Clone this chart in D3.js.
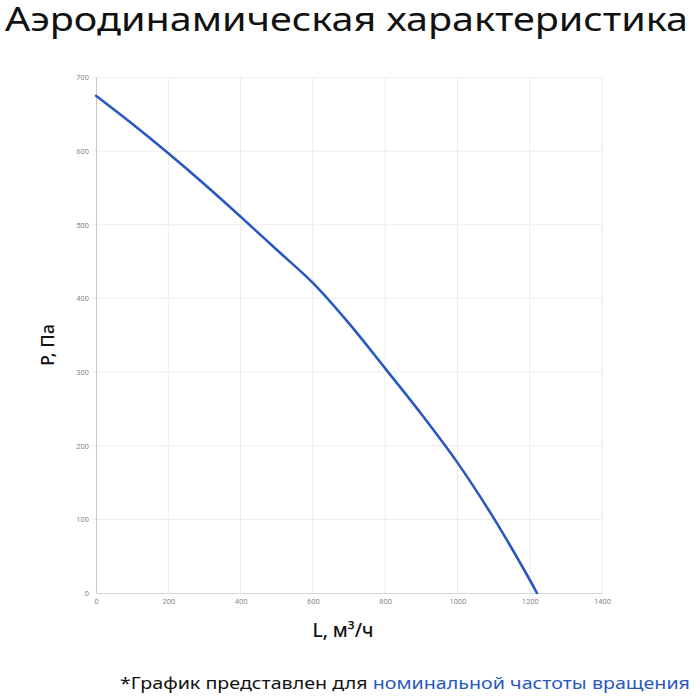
<!DOCTYPE html>
<html>
<head>
<meta charset="utf-8">
<script src="https://cdn.jsdelivr.net/npm/d3@7"></script>
<style>
  body { margin: 0; background: #fff; }
  text { font-family: "Noto Sans", sans-serif; }
</style>
</head>
<body>
<div id="chart"></div>
<script>
// расход L, м3/ч и давление P, Па
var flow = [0, 100, 200, 300, 400, 500, 600, 700, 800, 900, 1000, 1100, 1200, 1220];
var pressure = [675, 637, 597, 555, 511, 466, 421, 366, 305, 243, 177, 102, 18, 0];
var xTicks = [0, 200, 400, 600, 800, 1000, 1200, 1400];
var yTicks = [0, 100, 200, 300, 400, 500, 600, 700];

var width = 700, height = 697,
    plotLeft = 96, plotRight = 602, plotTop = 77.4, plotBottom = 593;

var svg = d3.select("#chart").append("svg")
    .attr("width", width)
    .attr("height", height);

var x = d3.scaleLinear().domain([0, 1400]).range([plotLeft, plotRight]);
var y = d3.scaleLinear().domain([0, 700]).range([plotBottom, plotTop]);

// сетка
svg.append("g")
    .selectAll("line")
    .data(xTicks.slice(1))
    .enter().append("line")
    .attr("x1", function(d) { return x(d); })
    .attr("x2", function(d) { return x(d); })
    .attr("y1", plotTop)
    .attr("y2", plotBottom)
    .attr("stroke", "#ececec")
    .attr("stroke-width", 1);

svg.append("g")
    .selectAll("line")
    .data(yTicks.slice(1))
    .enter().append("line")
    .attr("x1", plotLeft - 4)
    .attr("x2", plotRight)
    .attr("y1", function(d) { return y(d); })
    .attr("y2", function(d) { return y(d); })
    .attr("stroke", "#ececec")
    .attr("stroke-width", 1);

var xAxis = svg.append("g")
    .attr("transform", "translate(0," + plotBottom + ")")
    .call(d3.axisBottom(x).tickValues(xTicks).tickFormat(d3.format("d")).tickSize(0).tickPadding(6));
xAxis.select(".domain").attr("stroke", "#d6d6d6");

var yAxis = svg.append("g")
    .attr("transform", "translate(" + plotLeft + ",0)")
    .call(d3.axisLeft(y).tickValues(yTicks).tickFormat(d3.format("d")).tickSize(0).tickPadding(7));
yAxis.select(".domain").attr("stroke", "#c8c8c8");

svg.selectAll(".tick text")
    .attr("fill", "#8a8a8a")
    .style("font-size", "7.5px")
    .style("font-family", "Roboto, sans-serif");

// кривая
var line = d3.line()
    .x(function(d, i) { return x(flow[i]); })
    .y(function(d) { return y(d); })
    .curve(d3.curveCatmullRom.alpha(0.5));

svg.append("path")
    .datum(pressure)
    .attr("fill", "none")
    .attr("stroke", "#2a58c2")
    .attr("stroke-width", 2.6)
    .attr("stroke-linecap", "round")
    .attr("d", line);

// подписи
svg.append("text")
    .attr("x", 5)
    .attr("y", 31)
    .attr("textLength", 683)
    .attr("lengthAdjust", "spacingAndGlyphs")
    .style("font-size", "33px")
    .style("font-weight", 400)
    .attr("fill", "#111")
    .text("Аэродинамическая характеристика");

svg.append("text")
    .attr("transform", "translate(54,345) rotate(-90)")
    .attr("text-anchor", "middle")
    .style("font-size", "18px")
    .style("font-weight", 500)
    .attr("fill", "#111")
    .text("P, Па");

svg.append("text")
    .attr("x", 343)
    .attr("y", 637)
    .attr("text-anchor", "middle")
    .style("font-size", "19px")
    .style("font-weight", 500)
    .attr("fill", "#111")
    .text("L, м³/ч");

var note = svg.append("text")
    .attr("x", 120)
    .attr("y", 689)
    .attr("textLength", 570)
    .attr("lengthAdjust", "spacingAndGlyphs")
    .style("font-size", "17px")
    .attr("fill", "#111");
note.append("tspan").text("*График представлен для ");
note.append("tspan").attr("fill", "#2a58c2").text("номинальной частоты вращения");
</script>
</body>
</html>
